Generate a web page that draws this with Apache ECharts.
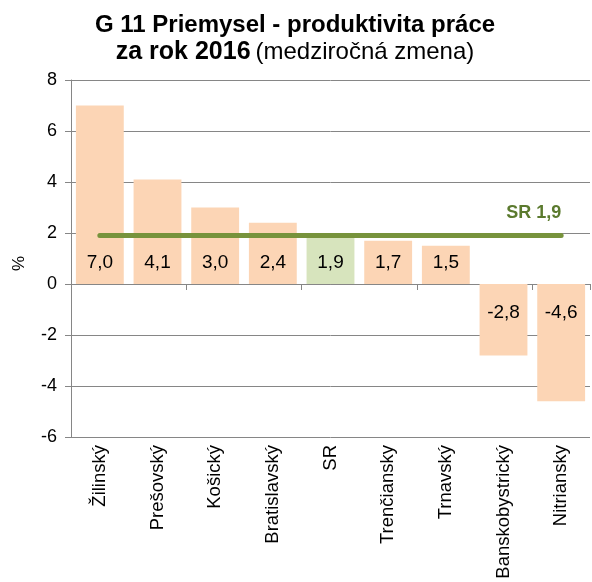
<!DOCTYPE html>
<html><head><meta charset="utf-8">
<script src="https://cdn.jsdelivr.net/npm/echarts@6/dist/echarts.min.js"></script>
<style>html,body{margin:0;padding:0;background:#fff}#c{width:592px;height:582px}</style>
</head><body><div id="c"></div>
<script>
const categories = ['Žilinský','Prešovský','Košický','Bratislavský','SR','Trenčiansky','Trnavský','Banskobystrický','Nitriansky'];
const values = [7.0, 4.1, 3.0, 2.4, 1.9, 1.7, 1.5, -2.8, -4.6];
const srLine = [1.9, 1.9, 1.9, 1.9, 1.9, 1.9, 1.9, 1.9, 1.9];
const srLabel = 'SR 1,9';
const yMin = -6, yMax = 8, yStep = 2;
const highlight = 'SR';

const FONT = '"Liberation Sans", Arial, sans-serif';
const fmt = v => v.toFixed(1).replace('.', ',');

const barData = values.map((v, i) => ({
  value: v,
  itemStyle: { color: categories[i] === highlight ? '#d7e4bd' : '#fcd5b5' },
  label: v >= 0 ? { position: 'insideBottom', distance: 12 } : { position: 'insideTop', distance: 19 }
}));

const chart = echarts.init(document.getElementById('c'), null, { renderer: 'canvas' });
chart.setOption({
  backgroundColor: '#fff',
  animation: false,
  title: {
    left: 290, top: 7, textAlign: 'center',
    text: '{b|G 11 Priemysel - produktivita práce}\n{c|za rok 2016} {n|(medziročná zmena)}',
    textStyle: {
      rich: {
        b: { fontFamily: FONT, fontSize: 24, fontWeight: 'bold', color: '#000', lineHeight: 27 },
        c: { fontFamily: FONT, fontSize: 25, fontWeight: 'bold', color: '#000', lineHeight: 27 },
        n: { fontFamily: FONT, fontSize: 24, fontWeight: 'normal', color: '#000', lineHeight: 27 }
      }
    }
  },
  grid: { left: 71, right: 2, top: 80, bottom: 145, containLabel: false, outerBoundsMode: 'none' },
  xAxis: [
    {
      type: 'category', data: categories, position: 'bottom',
      axisLine: { show: false, onZero: false },
      axisTick: { show: false },
      axisLabel: { rotate: 90, margin: 8, fontFamily: FONT, fontSize: 18.5, color: '#000', interval: 0 }
    },
    {
      type: 'category', data: categories, position: 'top',
      axisLine: { show: true, onZero: true, lineStyle: { color: '#868686', width: 1 } },
      axisTick: { show: true, inside: true, length: 6, lineStyle: { color: '#868686' } },
      axisLabel: { show: false }
    }
  ],
  yAxis: {
    type: 'value', min: yMin, max: yMax, interval: yStep,
    name: '%', nameLocation: 'middle', nameGap: 43, nameRotate: 90,
    nameTextStyle: { fontFamily: FONT, fontSize: 17, color: '#000', padding: [0, 10, 0, 0] },
    axisLine: { show: true, lineStyle: { color: '#868686' } },
    axisTick: { show: true, length: 6, lineStyle: { color: '#868686' } },
    axisLabel: { fontFamily: FONT, fontSize: 18, color: '#000', margin: 14, formatter: v => String(v) },
    splitLine: { show: true, lineStyle: { color: '#868686', width: 1 } }
  },
  series: [
    {
      type: 'bar', data: barData, barCategoryGap: '17%', xAxisIndex: 0, z: 2,
      label: { show: true, fontFamily: FONT, fontSize: 19, color: '#000', formatter: p => fmt(p.value) }
    },
    {
      type: 'line', data: srLine, xAxisIndex: 0, z: 5, symbol: 'none',
      lineStyle: { color: '#77933c', width: 5, cap: 'round' },
      endLabel: {
        show: true, formatter: srLabel, fontFamily: FONT, fontSize: 18, fontWeight: 'bold',
        color: '#5b7a2e', align: 'right', verticalAlign: 'bottom', offset: [-8, -14]
      }
    }
  ]
});
</script></body></html>
